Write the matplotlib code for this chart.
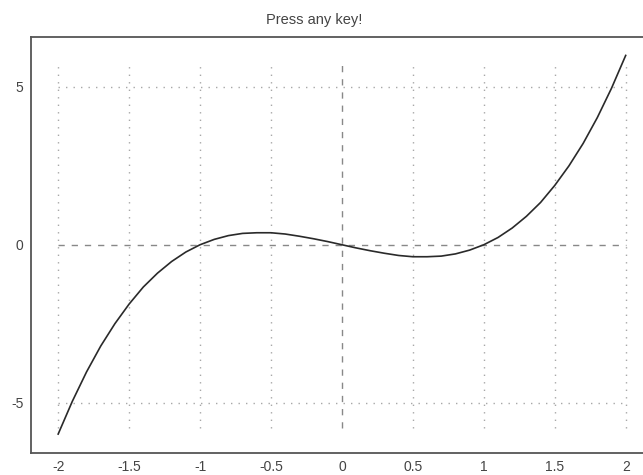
import numpy as np
import matplotlib
matplotlib.use('Agg')
import matplotlib.pyplot as plt

plt.rcParams['font.family'] = ['Liberation Sans', 'DejaVu Sans']

# curve values
x_vals = [-2.0, -1.9, -1.8, -1.7, -1.6, -1.5, -1.4, -1.3, -1.2, -1.1, -1.0,
          -0.9, -0.8, -0.7, -0.6, -0.5, -0.4, -0.3, -0.2, -0.1, 0.0,
          0.1, 0.2, 0.3, 0.4, 0.5, 0.6, 0.7, 0.8, 0.9, 1.0,
          1.1, 1.2, 1.3, 1.4, 1.5, 1.6, 1.7, 1.8, 1.9, 2.0]
y_vals = [-6.0, -4.96, -4.03, -3.21, -2.5, -1.88, -1.34, -0.9, -0.53, -0.23, 0.0,
          0.17, 0.29, 0.36, 0.38, 0.38, 0.34, 0.27, 0.19, 0.1, 0.0,
          -0.1, -0.19, -0.27, -0.34, -0.38, -0.38, -0.36, -0.29, -0.17, 0.0,
          0.23, 0.53, 0.9, 1.34, 1.88, 2.5, 3.21, 4.03, 4.96, 6.0]

x_ticks = [-2, -1.5, -1, -0.5, 0, 0.5, 1, 1.5, 2]
x_labels = ['-2', '-1.5', '-1', '-0.5', '0', '0.5', '1', '1.5', '2']
y_ticks = [-5, 0, 5]
y_labels = ['-5', '0', '5']

fig = plt.figure(figsize=(6.43, 4.75), dpi=100)
ax = fig.add_axes([30.5 / 643, 22 / 475, 1 - 30.5 / 643, 416.5 / 475])

grid_col = '#a8a8a8'
# dotted grid inside the data box
for xt in x_ticks:
    if xt == 0:
        continue
    ax.plot([xt, xt], [-5.8, 5.8], color=grid_col, linestyle=(0, (1, 4.4)), linewidth=1)
for yt in y_ticks:
    if yt == 0:
        continue
    ax.plot([-2, 2], [yt, yt], color=grid_col, linestyle=(0, (1, 4.4)), linewidth=1)
# dashed axes through the origin
ax.plot([0, 0], [-5.8, 5.8], color='#888888', linestyle=(0, (4.5, 5)), linewidth=1)
ax.plot([-2, 2], [0, 0], color='#888888', linestyle=(0, (4.5, 5)), linewidth=1)

ax.plot(x_vals, y_vals, color='#2a2a2a', linewidth=1.2)

ax.set_xlim(-2.195, 2.122)
ax.set_ylim(-6.6, 6.6)
ax.set_xticks(x_ticks)
ax.set_xticklabels(x_labels)
ax.set_yticks(y_ticks)
ax.set_yticklabels(y_labels)
ax.tick_params(length=0, labelsize=10, colors='#444444')
ax.tick_params(axis='x', pad=5)
ax.tick_params(axis='y', pad=5)

for side in ['left', 'top', 'bottom']:
    ax.spines[side].set_color('#555555')
    ax.spines[side].set_linewidth(1.3)
ax.spines['right'].set_visible(False)

fig.text(314 / 643, 1 - 24 / 475, 'Press any key!', ha='center', va='baseline',
         fontsize=10.5, color='#444444')

fig.savefig('out.png', dpi=100)
